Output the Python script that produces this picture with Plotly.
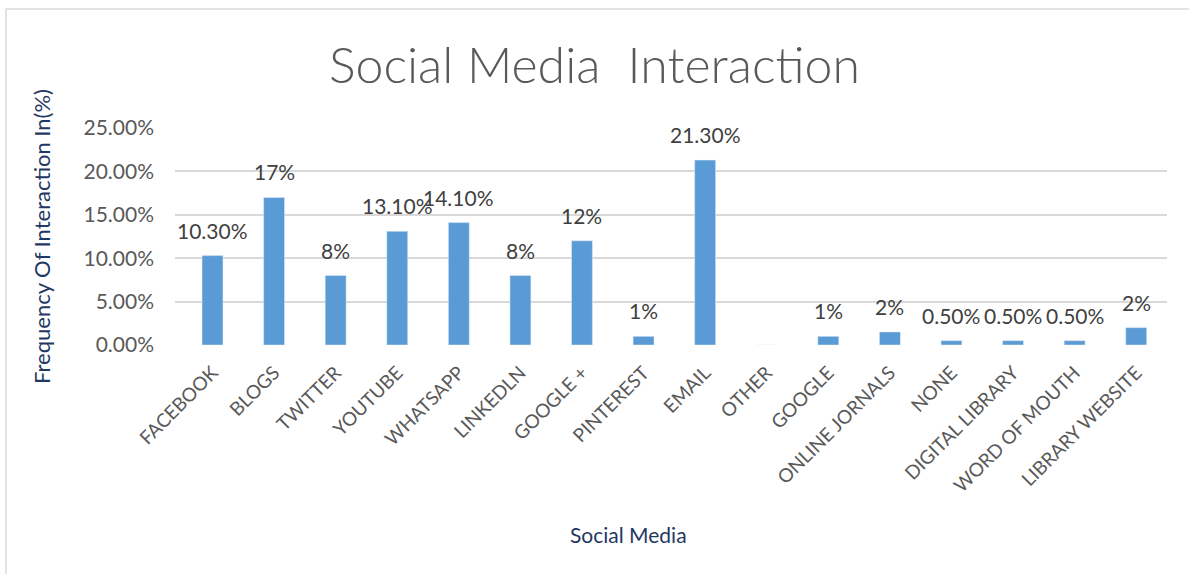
import plotly.graph_objects as go

categories = ["FACEBOOK", "BLOGS", "TWITTER", "YOUTUBE", "WHATSAPP", "LINKEDLN", "GOOGLE +",
              "PINTEREST", "EMAIL", "OTHER", "GOOGLE", "ONLINE JORNALS", "NONE",
              "DIGITAL LIBRARY", "WORD OF MOUTH", "LIBRARY WEBSITE"]
values = [10.3, 17, 8, 13.1, 14.1, 8, 12, 1, 21.3, 0, 1, 1.5, 0.5, 0.5, 0.5, 2]
labels = ["10.30%", "17%", "8%", "13.10%", "14.10%", "8%", "12%", "1%", "21.30%", "",
          "1%", "2%", "0.50%", "0.50%", "0.50%", "2%"]
y_ticks = [0, 5, 10, 15, 20, 25]

FONT = "Lato"

fig = go.Figure()
fig.add_trace(go.Bar(x=categories, y=values, marker_color="#5B9BD5", width=0.34,
                     hoverinfo="skip"))

for c, v, t in zip(categories, values, labels):
    if t:
        fig.add_annotation(x=c, y=v, text=t, showarrow=False, yanchor="bottom", yshift=11,
                           font=dict(family=FONT, size=21, color="#404040"))

fig.add_annotation(text="Social Media", xref="paper", yref="paper",
                   x=(628 - 175) / 992, y=(345 - 534) / 217, xanchor="center", yanchor="middle",
                   showarrow=False, font=dict(family=FONT, size=21, color="#1F3864"))

fig.update_layout(
    width=1189, height=574,
    margin=dict(l=175, r=22, t=128, b=229),
    paper_bgcolor="white", plot_bgcolor="white",
    showlegend=False,
    title=dict(text="Social Media\u00a0 Interaction", x=0.5, xanchor="center",
               y=1 - 65 / 574, yanchor="middle",
               font=dict(family=FONT, size=50, color="#595959", weight=300)),
    xaxis=dict(tickangle=-45, tickfont=dict(family=FONT, size=19, color="#595959"),
               showgrid=False, showline=False, ticks="", ticklabelstandoff=12),
    yaxis=dict(range=[0, 25], tickvals=y_ticks,
               ticktext=[f"{t:.2f}%" for t in y_ticks],
               tickfont=dict(family=FONT, size=21, color="#595959"),
               showgrid=True, gridcolor="#D9D9D9", gridwidth=1.5, zeroline=False,
               showline=False, ticks="", ticklabelstandoff=20,
               title=dict(text="Frequency Of Interaction In(%)", standoff=26,
                          font=dict(family=FONT, size=22, color="#1F3864"))),
    shapes=[dict(type="rect", xref="paper", yref="paper",
                 x0=(6 - 175) / 992, x1=(1200 - 175) / 992,
                 y0=(345 - 580) / 217, y1=(345 - 9) / 217,
                 line=dict(color="#D9D9D9", width=1.5), layer="below")],
)

fig.write_html("out.html")
